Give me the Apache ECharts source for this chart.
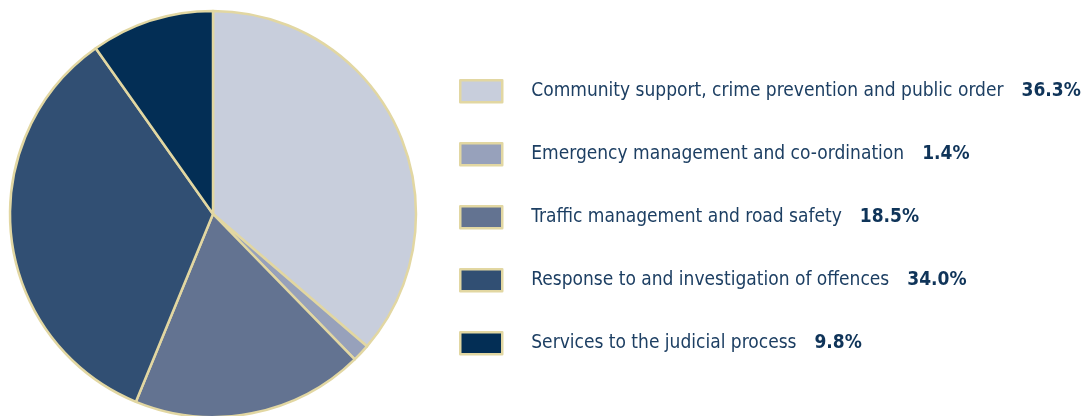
<!DOCTYPE html>
<html>
<head>
<meta charset="utf-8">
<script src="https://cdn.jsdelivr.net/npm/echarts@6/dist/echarts.min.js"></script>
<style>
  html, body { margin: 0; padding: 0; background: #ffffff; }
  #chart { width: 1082px; height: 416px; }
</style>
</head>
<body>
<div id="chart"></div>
<script>
// Budget share by output
const categories = [
  'Community support, crime prevention and public order',
  'Emergency management and co-ordination',
  'Traffic management and road safety',
  'Response to and investigation of offences',
  'Services to the judicial process'
];
const shares = [36.3, 1.4, 18.5, 34.0, 9.8];
const sliceColors = ['#c8cedc', '#97a1bb', '#637391', '#314f73', '#032e55'];

const edgeColor = '#e2d7a2';
const textColor = '#1d3f63';
const fontFamily = '"DejaVu Sans Condensed", "Liberation Sans", sans-serif';

const pieData = categories.map((name, i) => ({
  name: name,
  value: shares[i],
  itemStyle: { color: sliceColors[i] }
}));

const chart = echarts.init(document.getElementById('chart'), null, { renderer: 'canvas' });
chart.setOption({
  animation: false,
  backgroundColor: '#ffffff',
  legend: {
    orient: 'vertical',
    left: 459,
    top: 79,
    itemWidth: 42,
    itemHeight: 22,
    itemGap: 38.5,
    icon: 'rect',
    selectedMode: false,
    padding: 0,
    itemStyle: { borderColor: edgeColor, borderWidth: 2.5 },
    formatter: function (name) {
      const i = categories.indexOf(name);
      return '{n|' + name + '}{v|' + shares[i].toFixed(1) + '%}';
    },
    textStyle: {
      padding: [0, 0, 0, 24],
      rich: {
        n: { fontFamily: fontFamily, fontSize: 19, lineHeight: 22, color: textColor },
        v: { fontFamily: fontFamily, fontSize: 19, lineHeight: 22, fontWeight: 'bold', color: '#0f3459', padding: [0, 0, 0, 18] }
      }
    },
    data: categories
  },
  series: [{
    type: 'pie',
    center: [213, 214],
    radius: 203,
    startAngle: 90,
    clockwise: true,
    avoidLabelOverlap: false,
    label: { show: false },
    labelLine: { show: false },
    emphasis: { disabled: true },
    itemStyle: { borderColor: edgeColor, borderWidth: 2.5 },
    data: pieData
  }]
});
</script>
</body>
</html>
